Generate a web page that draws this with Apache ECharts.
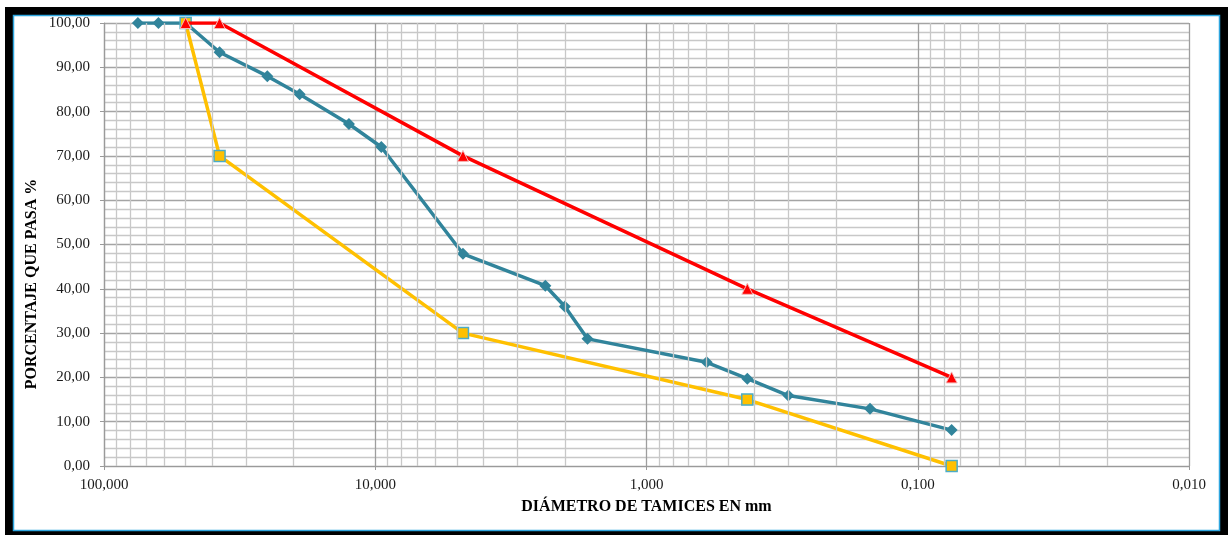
<!DOCTYPE html>
<html>
<head>
<meta charset="utf-8">
<script src="https://cdn.jsdelivr.net/npm/echarts@6/dist/echarts.min.js"></script>
<style>
  html, body { margin: 0; padding: 0; background: #ffffff; }
  #chart { width: 1228px; height: 535px; }
</style>
</head>
<body>
<div id="chart"></div>
<script>
// Sieve openings (mm) and percent passing for the gradation curve
const sieveSizes = [75, 63, 50, 37.5, 25, 19, 12.5, 9.5, 4.75, 2.36, 2.0, 1.65, 0.6, 0.425, 0.3, 0.15, 0.075];
const percentPassing = [100, 100, 100, 93.4, 88.0, 83.9, 77.2, 72.0, 47.9, 40.7, 36.0, 28.7, 23.4, 19.7, 15.9, 12.9, 8.1];

// Upper specification band
const upperSizes = [50, 37.5, 4.75, 0.425, 0.075];
const upperLimit = [100, 100, 70, 40, 20];

// Lower specification band
const lowerSizes = [50, 37.5, 4.75, 0.425, 0.075];
const lowerLimit = [100, 70, 30, 15, 0];

// Log grid: decades and the 2..9 subdivisions inside each
const decades = [0.01, 0.1, 1, 10];
const mantissas = [2, 3, 4, 5, 6, 7, 8, 9];

const pairs = (xs, ys) => xs.map((x, i) => [x, ys[i]]);
const minorX = [];
decades.forEach(d => mantissas.forEach(m => minorX.push(+(d * m).toPrecision(6))));

const serif = '"Liberation Serif", "Times New Roman", serif';
const comma = (v, n) => v.toFixed(n).replace('.', ',');

const chart = echarts.init(document.getElementById('chart'), null, { renderer: 'canvas' });

chart.setOption({
  backgroundColor: '#ffffff',
  animation: false,
  graphic: [
    {
      type: 'rect', z: -20, silent: true,
      shape: { x: 5, y: 7, width: 1223, height: 528 },
      style: { fill: '#000000' }
    },
    {
      type: 'rect', z: -19, silent: true,
      shape: { x: 13.5, y: 15.5, width: 1206, height: 515 },
      style: { fill: '#ffffff', stroke: '#2ea6df', lineWidth: 1.5 }
    },
    {
      type: 'text', z: 10,
      x: 32, y: 284, rotation: Math.PI / 2,
      style: {
        text: 'PORCENTAJE QUE PASA %',
        font: 'bold 16px ' + serif,
        fill: '#000000',
        align: 'center', verticalAlign: 'middle'
      }
    }
  ],
  grid: { left: 104, right: 39, top: 23, bottom: 69, containLabel: false },
  xAxis: {
    type: 'log',
    logBase: 10,
    min: 0.01,
    max: 100,
    inverse: true,
    name: 'DIÁMETRO DE TAMICES EN mm',
    nameLocation: 'middle',
    nameGap: 33,
    nameTextStyle: { fontFamily: serif, fontWeight: 'bold', fontSize: 16, color: '#000000' },
    axisLine: { show: true, lineStyle: { color: '#9a9a9a', width: 1.2 } },
    axisTick: { show: true, length: 4, lineStyle: { color: '#9a9a9a' } },
    axisLabel: {
      fontFamily: serif, fontSize: 15, color: '#1a1a1a', margin: 12,
      formatter: v => comma(v, 3)
    },
    splitLine: { show: true, lineStyle: { color: '#9e9e9e', width: 1.3 } }
  },
  yAxis: {
    type: 'value',
    min: 0,
    max: 100,
    interval: 10,
    axisLine: { show: true, lineStyle: { color: '#9a9a9a', width: 1.2 } },
    axisTick: { show: true, length: 4, lineStyle: { color: '#9a9a9a' } },
    axisLabel: {
      fontFamily: serif, fontSize: 15, color: '#1a1a1a', margin: 14,
      formatter: v => comma(v, 2)
    },
    splitLine: { show: true, lineStyle: { color: '#a4a4a4', width: 1.3 } },
    minorTick: { show: false, splitNumber: 5 },
    minorSplitLine: { show: true, lineStyle: { color: '#c8c8c8', width: 1.3 } }
  },
  series: [
    {
      name: 'grid-minor',
      type: 'line',
      data: [],
      z: 1,
      silent: true,
      markLine: {
        silent: true,
        symbol: ['none', 'none'],
        label: { show: false },
        lineStyle: { color: '#c8c8c8', width: 1.3, type: 'solid' },
        data: minorX.map(v => ({ xAxis: v }))
      }
    },
    {
      name: 'Granulometría',
      type: 'line',
      z: 3,
      data: pairs(sieveSizes, percentPassing),
      symbol: 'diamond',
      symbolSize: 12,
      lineStyle: { color: '#31849b', width: 3.5 },
      itemStyle: { color: '#31849b' }
    },
    {
      name: 'Límite inferior',
      type: 'line',
      z: 4,
      data: pairs(lowerSizes, lowerLimit),
      symbol: 'rect',
      symbolSize: 11,
      lineStyle: { color: '#ffc000', width: 3.5 },
      itemStyle: { color: '#ffc000', borderColor: '#4bacc6', borderWidth: 1.5 }
    },
    {
      name: 'Límite superior',
      type: 'line',
      z: 5,
      data: pairs(upperSizes, upperLimit),
      symbol: 'triangle',
      symbolSize: 11,
      lineStyle: { color: '#ff0000', width: 3.5 },
      itemStyle: { color: '#ff0000', borderColor: '#f4b8b8', borderWidth: 1 }
    }
  ]
});
</script>
</body>
</html>
